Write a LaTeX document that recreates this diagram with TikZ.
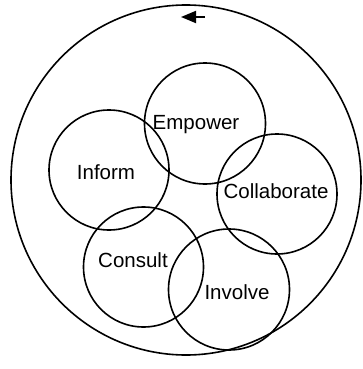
\documentclass[tikz,border=0pt]{standalone}
\usepackage{fontspec}
\setmainfont{Liberation Sans}
\usetikzlibrary{arrows.meta}
\begin{document}
\begin{tikzpicture}[x=1pt,y=-1pt,
  ring/.style={draw=black,line width=1.6pt,circle,inner sep=0pt,minimum size=#1},
  lbl/.style={font=\fontsize{20.5}{23}\selectfont,inner sep=0pt}]
\useasboundingbox (0,0) rectangle (362,369);
\node[ring=350pt] (outer) at (186,180) {};
\node[ring=121pt] (empower) at (205,123.5) {};
\node[ring=120pt] (inform) at (109,170) {};
\node[ring=120pt] (collab) at (277,194) {};
\node[ring=120pt] (consult) at (143.5,267) {};
\node[ring=121pt] (involve) at (229,289.5) {};
\node[lbl] (tEmpower) at (196,125) {Empower};
\node[lbl] (tInform) at (106,172) {Inform};
\node[lbl] (tCollab) at (276,191) {Collaborate};
\node[lbl] (tConsult) at (133,260) {Consult};
\node[lbl] (tInvolve) at (237,292) {Involve};
\coordinate (atail) at (205,17);
\coordinate (ahead) at (181,17);
\draw[line width=1.8pt,-{Triangle[length=15pt,width=12pt]}] (atail) -- (ahead);
\end{tikzpicture}
\end{document}
